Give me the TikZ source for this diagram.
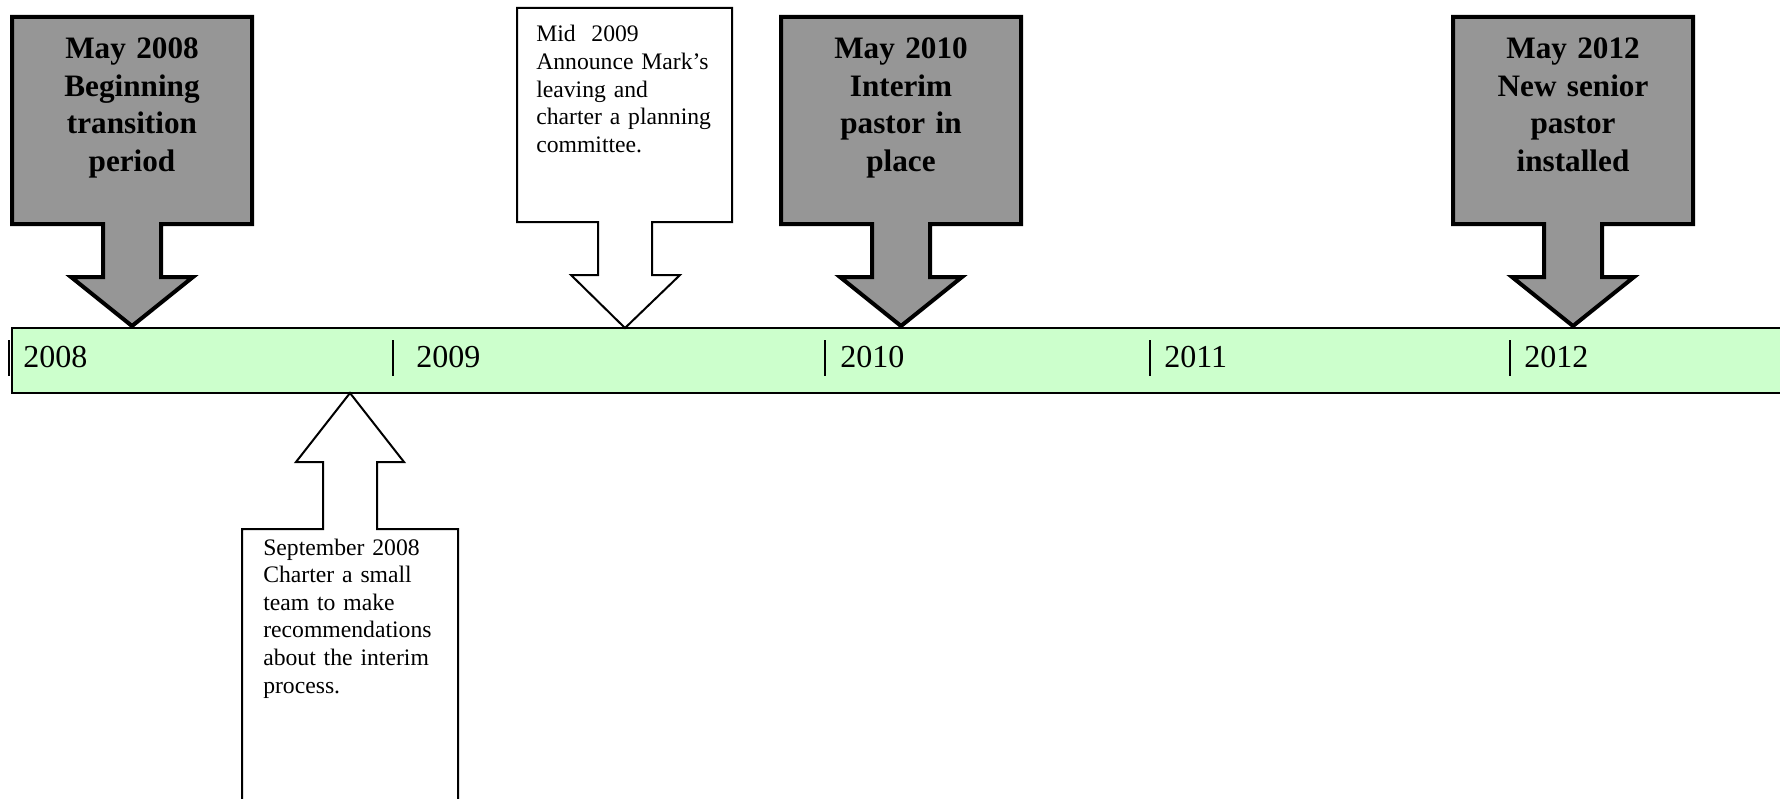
\documentclass[tikz,border=0pt]{standalone}
\usepackage{fontspec}
\setmainfont{Liberation Serif}
\definecolor{calloutgray}{RGB}{150,150,150}
\definecolor{barfill}{RGB}{204,255,204}
\tikzset{
  graycallout/.style={fill=calloutgray, draw=black, line width=3pt, line join=miter},
  whitecallout/.style={fill=white, draw=black, line width=1.5pt, line join=miter},
  barbox/.style={fill=barfill, draw=black, line width=1.5pt},
  yeartext/.style={anchor=base west, inner sep=0pt, font=\fontsize{24}{28}\selectfont},
  boldtext/.style={anchor=base, inner sep=0pt, text width=170pt, align=center, font=\fontsize{23.4}{28.1}\selectfont\bfseries},
  smalltext/.style={anchor=base west, inner sep=0pt, text width=160pt, align=left, font=\fontsize{17.75}{20.7}\selectfont},
  tickline/.style={line width=1.5pt},
}
\newcommand{\graydown}[1]{%
  \draw[graycallout] ({#1-120},17) -- ({#1+120},17) -- ({#1+120},224) -- ({#1+29},224)
    -- ({#1+29},277) -- ({#1+61},277) -- (#1,326) -- ({#1-61},277) -- ({#1-29},277)
    -- ({#1-29},224) -- ({#1-120},224) -- cycle;}
\begin{document}
\begin{tikzpicture}[x=0.75pt,y=-0.75pt]
\useasboundingbox (0,0) rectangle (1780,799);
\clip (0,0) rectangle (1780,799);
% timeline bar
\draw[barbox] (12,328) rectangle (1800,393);
% year ticks and labels
\foreach \tx/\lx/\yr in {9/23/2008, 393/416/2009, 825/840/2010, 1150/1164/2011, 1510/1524/2012}{
  \draw[tickline] (\tx,340) -- (\tx,376);
  \node[yeartext] (y\yr) at (\lx,367) {\yr};
}
% gray callouts
\graydown{132}
\node[boldtext] (c2008) at (132,59) {May 2008\\Beginning\\transition\\period};
\graydown{901}
\node[boldtext] (c2010) at (901,59) {May 2010\\Interim\\pastor in\\place};
\graydown{1573}
\node[boldtext] (c2012) at (1573,59) {May 2012\\New senior\\pastor\\installed};
% white down callout (Mid 2009)
\draw[whitecallout] (517,8) -- (732,8) -- (732,222) -- (652,222) -- (652,275) -- (680,275)
  -- (625,328) -- (571,275) -- (598,275) -- (598,222) -- (517,222) -- cycle;
\node[smalltext] (c2009) at (536,42) {Mid~~2009\\Announce Mark’s\\leaving and\\charter a planning\\committee.};
% white up callout (September 2008)
\draw[whitecallout] (242,820) -- (242,529) -- (323,529) -- (323,462) -- (296,462)
  -- (350,393) -- (404,462) -- (377,462) -- (377,529) -- (458,529) -- (458,820);
\node[smalltext] (csep) at (263,555) {September 2008\\Charter a small\\team to make\\recommendations\\about the interim\\process.};
\end{tikzpicture}
\end{document}
